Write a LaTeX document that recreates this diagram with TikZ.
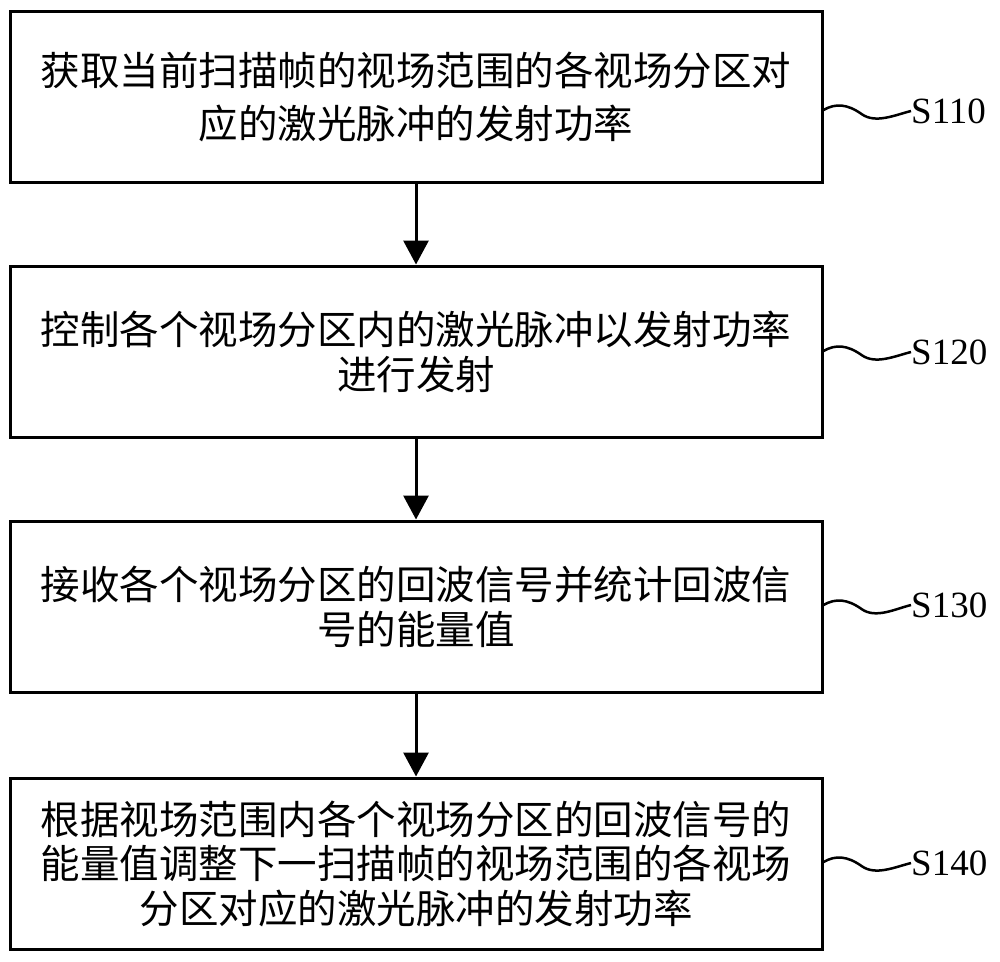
\documentclass[tikz,border=0pt]{standalone}
\usepackage{fontspec}
\newfontfamily\cjk{Noto Sans CJK SC}
\newfontfamily\lab{Liberation Serif}
\usetikzlibrary{arrows.meta}
\begin{document}
\begin{tikzpicture}[x=1pt,y=-1pt,
  stepbox/.style={draw,line width=3pt,minimum width=812pt,minimum height=171pt,inner sep=0pt,align=center,font=\cjk\fontsize{39.5}{45}\selectfont},
  flow/.style={line width=3pt,-{Triangle[length=24pt,width=25pt]}},
  steplab/.style={anchor=west,inner sep=0pt,font=\lab\fontsize{37}{40}\selectfont},
  wave/.style={line width=2.5pt}]
\useasboundingbox (0,0) rectangle (1000,961);
\node[stepbox,font=\cjk\fontsize{39.5}{53}\selectfont] (b1) at (416,96.5) {获取当前扫描帧的视场范围的各视场分区对\\应的激光脉冲的发射功率};
\node[stepbox] (b2) at (416,351.5) {控制各个视场分区内的激光脉冲以发射功率\\进行发射};
\node[stepbox] (b3) at (416,606.5) {接收各个视场分区的回波信号并统计回波信\\号的能量值};
\node[stepbox,font=\cjk\fontsize{39.5}{44.5}\selectfont] (b4) at (416,863.5) {根据视场范围内各个视场分区的回波信号的\\能量值调整下一扫描帧的视场范围的各视场\\分区对应的激光脉冲的发射功率};
\draw[flow] (b1) -- (b2);
\draw[flow] (b2) -- (b3);
\draw[flow] (b3) -- (b4);
\node[steplab] (s1) at (911,111) {S110};
\node[steplab] (s2) at (911,352) {S120};
\node[steplab] (s3) at (911,605) {S130};
\node[steplab] (s4) at (911,863) {S140};
\coordinate (w1) at (b1.east |- 0,110);
\coordinate (w2) at (b2.east |- 0,351);
\coordinate (w3) at (b3.east |- 0,605);
\coordinate (w4) at (b4.east |- 0,862);
\foreach \i in {1,2,3,4}{
  \draw[wave] (w\i) .. controls +(12,-7) and +(-14,-10) .. ++(38,4) .. controls +(14,10) and +(-16,4) .. (s\i.west);
}
\end{tikzpicture}
\end{document}
